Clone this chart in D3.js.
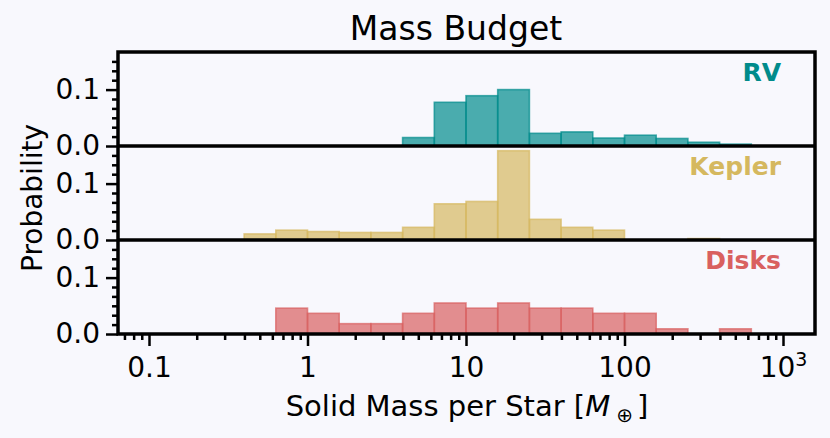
<!DOCTYPE html>
<html>
<head>
<meta charset="utf-8">
<script src="https://cdn.jsdelivr.net/npm/d3@7"></script>
<style>
  body { margin: 0; background: #f8f8fd; }
  svg { display: block; font-family: "DejaVu Sans", sans-serif; }
</style>
</head>
<body>
<div id="chart"></div>
<script>
// log10 of the lower edge of each bin (bins are 0.2 dex wide)
var binLogEdges = [-0.4, -0.2, 0.0, 0.2, 0.4, 0.6, 0.8, 1.0, 1.2, 1.4, 1.6, 1.8, 2.0, 2.2, 2.4, 2.6];
var binWidthLog = 0.2;

var rvValues     = [0, 0, 0, 0, 0, 0.018, 0.093, 0.107, 0.120, 0.027, 0.030, 0.017, 0.023, 0.016, 0.008, 0.004];
var keplerValues = [0.013, 0.021, 0.018, 0.016, 0.016, 0.027, 0.077, 0.082, 0.190, 0.044, 0.027, 0.021, 0, 0, 0.003, 0];
var diskValues   = [0, 0.055, 0.044, 0.022, 0.022, 0.044, 0.066, 0.055, 0.066, 0.055, 0.055, 0.044, 0.044, 0.011, 0, 0.011];

var panelNames  = ["RV", "Kepler", "Disks"];
var panelColors = ["#008b8b", "#d5b85f", "#d9605f"];

var xMajorTicks = [0.1, 1, 10, 100, 1000];
var xMajorLabels = ["0.1", "1", "10", "100", "10^3"];
var yMajorTicks = [0, 0.12];
var yMinorTicks = [0.02, 0.04, 0.06, 0.08, 0.10, 0.14, 0.16, 0.18];

var series = [rvValues, keplerValues, diskValues];

// layout
var W = 830, H = 438;
var margin = { top: 52, left: 118 },
    width = 697,
    panelH = 94;

var svg = d3.select("#chart").append("svg")
    .attr("width", W)
    .attr("height", H);

svg.append("rect").attr("width", W).attr("height", H).attr("fill", "#f8f8fd");

// x scale: 0.1 -> 149px, 1000 -> 783px
var x = d3.scaleLog()
    .domain([Math.pow(10, -1.1956), Math.pow(10, 3.2019)])
    .range([margin.left, margin.left + width]);

var y = d3.scaleLinear().domain([0, 0.2]).range([panelH, 0]);

// minor log ticks on x
var xMinor = [];
[0.01, 0.1, 1, 10, 100].forEach(function(dec) {
    for (var k = 2; k <= 9; k++) {
        var v = dec * k;
        if (v > x.domain()[0] && v < x.domain()[1]) xMinor.push(v);
    }
});

series.forEach(function(vals, i) {
    var top = margin.top + i * panelH;
    var g = svg.append("g").attr("transform", "translate(0," + top + ")");
    var col = panelColors[i];

    var bars = binLogEdges.map(function(lo, j) { return { lo: lo, v: vals[j] }; })
        .filter(function(d) { return d.v > 0; });

    g.selectAll("rect.bar").data(bars).enter().append("rect")
        .attr("class", "bar")
        .attr("x", function(d) { return x(Math.pow(10, d.lo)); })
        .attr("width", function(d) { return x(Math.pow(10, d.lo + binWidthLog)) - x(Math.pow(10, d.lo)); })
        .attr("y", function(d) { return y(d.v); })
        .attr("height", function(d) { return y(0) - y(d.v); })
        .attr("fill", col)
        .attr("fill-opacity", 0.7)
        .attr("stroke", col)
        .attr("stroke-opacity", 0.7)
        .attr("stroke-width", 1.6);

    // y axis, major + minor
    var yAxis = g.append("g")
        .attr("transform", "translate(" + margin.left + ",0)")
        .call(d3.axisLeft(y).tickValues(yMajorTicks).tickFormat(d3.format(".1f")).tickSize(12).tickPadding(6));
    var yMin = g.append("g")
        .attr("transform", "translate(" + margin.left + ",0)")
        .call(d3.axisLeft(y).tickValues(yMinorTicks).tickFormat("").tickSize(6));
    [yAxis, yMin].forEach(function(a) {
        a.select(".domain").remove();
        a.selectAll("line").attr("stroke", "#000").attr("stroke-width", 2.5);
    });
    yAxis.selectAll("text")
        .attr("font-size", 28)
        .attr("font-family", "DejaVu Sans")
        .attr("fill", "#000");

    g.append("text")
        .attr("x", 781)
        .attr("y", 29)
        .attr("text-anchor", "end")
        .attr("font-size", 25)
        .attr("font-weight", "bold")
        .attr("fill", col)
        .text(panelNames[i]);
});

// x axis at bottom
var bottom = margin.top + 3 * panelH;
var xAxis = svg.append("g")
    .attr("transform", "translate(0," + bottom + ")")
    .call(d3.axisBottom(x).tickValues(xMajorTicks)
        .tickFormat(function(d, i) { return xMajorLabels[i]; })
        .tickSize(12).tickPadding(6));
var xMin = svg.append("g")
    .attr("transform", "translate(0," + bottom + ")")
    .call(d3.axisBottom(x).tickValues(xMinor).tickFormat("").tickSize(6));
[xAxis, xMin].forEach(function(a) {
    a.select(".domain").remove();
    a.selectAll("line").attr("stroke", "#000").attr("stroke-width", 2.5);
});
xAxis.selectAll("text")
    .attr("font-size", 28)
    .attr("font-family", "DejaVu Sans")
    .attr("fill", "#000")
    .attr("dy", null)
    .attr("y", 43)
    .each(function(d, i) {
        var lab = xMajorLabels[i];
        if (lab.indexOf("^") > 0) {
            var parts = lab.split("^");
            var t = d3.select(this).text(null);
            t.append("tspan").text(parts[0]);
            t.append("tspan").attr("font-size", 19).attr("dy", -11).text(parts[1]);
        }
    });

// frames
var frame = svg.append("g").attr("fill", "none").attr("stroke", "#000").attr("stroke-width", 3.5);
frame.append("rect")
    .attr("x", margin.left).attr("y", margin.top)
    .attr("width", width).attr("height", 3 * panelH);
[1, 2].forEach(function(k) {
    frame.append("line")
        .attr("x1", margin.left).attr("x2", margin.left + width)
        .attr("y1", margin.top + k * panelH).attr("y2", margin.top + k * panelH);
});

// title and labels
svg.append("text")
    .attr("x", 456).attr("y", 40)
    .attr("text-anchor", "middle")
    .attr("font-size", 33)
    .text("Mass Budget");

svg.append("text")
    .attr("transform", "translate(42,198) rotate(-90)")
    .attr("text-anchor", "middle")
    .attr("font-size", 28)
    .text("Probability");

var xl = svg.append("text")
    .attr("x", 467).attr("y", 416)
    .attr("text-anchor", "middle")
    .attr("font-size", 29);
xl.append("tspan").text("Solid Mass per Star [");
xl.append("tspan").attr("font-style", "italic").text("M");
xl.append("tspan").attr("font-size", 20).attr("dy", 6).attr("dx", 6).text("\u2295");
xl.append("tspan").attr("dy", -6).attr("dx", 4).text("]");
</script>
</body>
</html>
